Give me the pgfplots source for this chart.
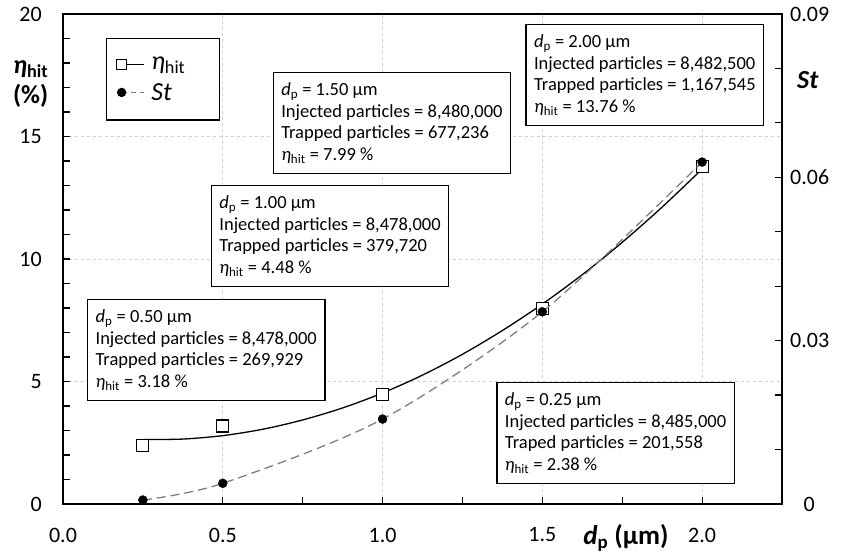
\documentclass[border=0pt]{standalone}
\usepackage{fontspec}
\setmainfont{Carlito}
\usepackage{pgfplots}
\pgfplotsset{compat=1.18}

\definecolor{gridgray}{HTML}{D0D0D0}
\definecolor{stgray}{HTML}{7F7F7F}

\newcommand{\eh}{\textit{η}\textsubscript{hit}}
\newcommand{\dpp}{\textit{d}\textsubscript{p}}

\tikzset{infobox/.style={draw=black, line width=1.3pt, fill=white, align=left,
  inner xsep=8pt, inner ysep=10pt, anchor=north west,
  font=\fontsize{18.5}{21.7}\selectfont}}

\begin{document}
\begin{tikzpicture}
\begin{axis}[
  scale only axis, width=719pt, height=490pt,
  xmin=0, xmax=2.25, ymin=0, ymax=20,
  axis line style={line width=1.6pt},
  xtick={0,0.5,1,1.5,2}, xticklabels={0.0,0.5,1.0,1.5,2.0},
  minor x tick num=1,
  ytick={0,5,10,15,20}, minor y tick num=4,
  xtick pos=bottom, ytick pos=left,
  tick align=inside,
  major tick length=7pt, minor tick length=7pt,
  every tick/.style={black, line width=1.2pt},
  xmajorgrids, ymajorgrids,
  major grid style={gridgray, dashed, line width=0.8pt},
  /pgf/number format/assume math mode=true,
  tick label style={font=\fontsize{22}{22}\selectfont},
  xticklabel style={anchor=center, yshift=-31pt},
  yticklabel style={anchor=east, inner sep=0pt, xshift=-21pt},
  ylabel={\textbf{\textit{η}}\textsubscript{\textbf{hit}}\\\textbf{(\%)}},
  every axis y label/.style={at={(-0.045,0.857)}, anchor=center, align=center,
    font=\fontsize{26}{30}\selectfont},
  xlabel={\textbf{\textit{d}}\textsubscript{\textbf{p}}\textbf{ (μm)}},
  every axis x label/.style={at={(0.783,-0.069)}, anchor=center,
    font=\fontsize{27}{30}\selectfont},
  legend style={at={(0.0598,0.951)}, anchor=north west, draw=black, fill=white,
    line width=1.3pt, font=\fontsize{26}{28}\selectfont,
    inner xsep=10pt, inner ysep=16.5pt, row sep=8pt, column sep=5pt,
    cells={anchor=west}},
  legend image code/.code={
    \draw[#1, mark=none] (0pt,0pt) -- (22pt,0pt);
    \draw[#1, only marks] plot coordinates {(0pt,0pt)};
  },
]
% trendline of eta_hit
\addplot[black, line width=1.3pt, smooth, forget plot] coordinates {
  (0.25,2.63) (0.375,2.65) (0.5,2.79) (0.625,3.05) (0.75,3.43)
  (0.875,3.92) (1.0,4.53) (1.125,5.26) (1.25,6.11) (1.375,7.08)
  (1.5,8.16) (1.625,9.36) (1.75,10.68) (1.875,12.12) (2.0,13.67)
};
\addplot[only marks, mark=square*, mark size=6pt,
  mark options={fill=white, draw=black, line width=1.2pt}, forget plot] coordinates {
  (0.25,2.38) (0.5,3.18) (1.0,4.48) (1.5,7.99) (2.0,13.76)
};
\addlegendimage{black, line width=1.3pt, mark=square*, mark size=5pt,
  mark options={fill=white, draw=black, line width=1.2pt}}
\addlegendentry{\eh\rule{22pt}{0pt}}
\addlegendimage{stgray, line width=1.3pt, dash pattern=on 5pt off 4pt,
  mark=*, mark size=4pt, mark options={fill=black, draw=black, solid}}
\addlegendentry{\textit{St}}

\node[infobox] at (axis cs:0.075,8.37) {\dpp{} = 0.50 μm\\Injected particles = 8,478,000\\Trapped particles = 269,929\\\eh{} = 3.18 \%};
\node[infobox] at (axis cs:0.4625,13.02) {\dpp{} = 1.00 μm\\Injected particles = 8,478,000\\Trapped particles = 379,720\\\eh{} = 4.48 \%};
\node[infobox] at (axis cs:0.656,17.63) {\dpp{} = 1.50 μm\\Injected particles = 8,480,000\\Trapped particles = 677,236\\\eh{} = 7.99 \%};
\node[infobox] at (axis cs:1.447,19.59) {\dpp{} = 2.00 μm\\Injected particles = 8,482,500\\Trapped particles = 1,167,545\\\eh{} = 13.76 \%};
\node[infobox] at (axis cs:1.356,4.98) {\dpp{} = 0.25 μm\\Injected particles = 8,485,000\\Traped particles = 201,558\\\eh{} = 2.38 \%};
\end{axis}

\begin{axis}[
  scale only axis, width=719pt, height=490pt,
  xmin=0, xmax=2.25, ymin=0, ymax=0.09,
  axis x line=none, axis y line*=right,
  axis line style={line width=1.6pt},
  ytick={0,0.03,0.06,0.09}, yticklabels={0,0.03,0.06,0.09},
  minor y tick num=2,
  tick align=inside,
  major tick length=7pt, minor tick length=7pt,
  every tick/.style={black, line width=1.2pt},
  tick label style={font=\fontsize{22}{22}\selectfont},
  yticklabel style={anchor=west, inner sep=0pt, text width=38pt, align=center, xshift=8pt},
  ylabel={\textbf{\textit{St}}},
  every axis y label/.style={at={(1.036,0.865)}, anchor=center,
    font=\fontsize{26}{30}\selectfont},
]
\addplot[stgray, line width=1.3pt, dash pattern=on 9pt off 5pt, smooth] coordinates {
  (0.25,0.00073) (0.5,0.0038) (1.0,0.0156) (1.5,0.0353) (2.0,0.0628)
};
\addplot[only marks, mark=*, mark size=4.5pt, black] coordinates {
  (0.25,0.00073) (0.5,0.0038) (1.0,0.0156) (1.5,0.0353) (2.0,0.0628)
};
\coordinate (bl) at (rel axis cs:0,0);
\coordinate (tr) at (rel axis cs:1,1);
\end{axis}
\pgfresetboundingbox
\path ([shift={(-63pt,-52pt)}]bl) rectangle ([shift={(67pt,14pt)}]tr);
\end{tikzpicture}
\end{document}
